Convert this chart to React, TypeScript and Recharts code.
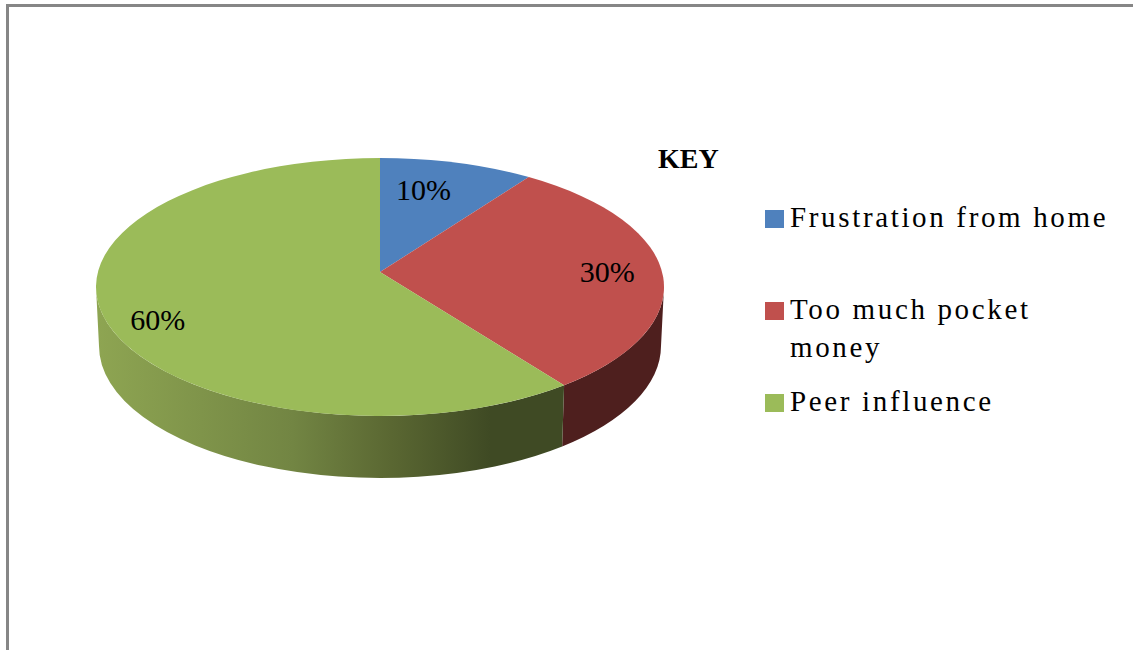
import { PieChart, Pie, Legend } from "recharts";

const categories = ["Frustration from home", "Too much pocket money", "Peer influence"];
const shares = [10, 30, 60];
const colours = ["#4f81bd", "#c0504d", "#9bbb59"];
const wallColours = ["#2c4a70", "#4e1f1e", "url(#greenWall)"];

const rows = categories.map((name, i) => ({ name, value: shares[i], fill: colours[i] }));

const W = 1133;
const H = 650;
const APEX_X = 380;
const APEX_Y = 272;
const RADIUS = 284;

// the flattened disc: top face and the bottom rim of the wall
const TOP = { dy: 15, rx: RADIUS, ry: 129 };
const BOTTOM = { dy: 74, rx: 281, ry: 132 };
const rad = (d: number) => (d * Math.PI) / 180;

// clockwise degrees from 12 o'clock, with the slight skew of the tilted view
const skew = (a: number) => a - 7.5 * Math.sin(rad(a));

function rim(cx: number, cy: number, e: { dy: number; rx: number; ry: number }, a: number) {
  return [cx + e.rx * Math.sin(rad(a)), cy + e.dy - e.ry * Math.cos(rad(a))];
}

function Slice(props: any) {
  const { cx, cy, startAngle, endAngle, fill, index } = props;
  const a = skew(90 - startAngle);
  const b = skew(90 - endAngle);
  const [sx, sy] = rim(cx, cy, TOP, a);
  const [ex, ey] = rim(cx, cy, TOP, b);
  const face = `M${cx},${cy} L${sx},${sy} A${TOP.rx},${TOP.ry} 0 ${b - a > 180 ? 1 : 0} 1 ${ex},${ey} Z`;

  // only the front half of the disc shows a wall
  const wa = Math.max(a, 90);
  const wb = Math.min(b, 270);
  let wall = null;
  if (wb > wa) {
    const [x1, y1] = rim(cx, cy, TOP, wa);
    const [x2, y2] = rim(cx, cy, TOP, wb);
    const [x3, y3] = rim(cx, cy, BOTTOM, wb);
    const [x4, y4] = rim(cx, cy, BOTTOM, wa);
    wall = (
      <path
        d={`M${x1},${y1} A${TOP.rx},${TOP.ry} 0 0 1 ${x2},${y2} L${x3},${y3} A${BOTTOM.rx},${BOTTOM.ry} 0 0 0 ${x4},${y4} Z`}
        fill={wallColours[index]}
      />
    );
  }
  return (
    <g>
      <defs>
        <linearGradient id="greenWall" gradientUnits="userSpaceOnUse" x1={cx - RADIUS} y1={0} x2={cx + 110} y2={0}>
          <stop offset="0%" stopColor="#8ea552" />
          <stop offset="50%" stopColor="#728543" />
          <stop offset="75%" stopColor="#5a6732" />
          <stop offset="100%" stopColor="#3f4a24" />
        </linearGradient>
      </defs>
      {wall}
      <path d={face} fill={fill} />
    </g>
  );
}

const labelNudge = [
  [-14, 3],
  [16, 4],
  [-13, 22],
];

function PctLabel(props: any) {
  const { cx, cy, midAngle, value, index } = props;
  const [x, y] = rim(cx, cy, TOP, skew(90 - midAngle));
  const px = cx + (x - cx) * 0.75 + labelNudge[index][0];
  const py = cy + (y - cy) * 0.75 + labelNudge[index][1];
  return (
    <text x={px} y={py} textAnchor="middle" dominantBaseline="middle" fontFamily="'Liberation Serif'" fontSize={30} fill="#000">
      {`${value}%`}
    </text>
  );
}

const legendGaps = [0, 54, 16];

function Key({ payload }: any) {
  return (
    <div style={{ fontFamily: "'Liberation Serif'", fontSize: 29, lineHeight: "38px", letterSpacing: 2.65, color: "#000" }}>
      {(payload || []).map((p: any, i: number) => (
        <div key={p.value} style={{ display: "flex", marginTop: legendGaps[i] }}>
          <span style={{ flex: "none", width: 19, height: 18, marginTop: 12, marginRight: 6, background: p.color }} />
          <span style={{ width: 330 }}>{p.value}</span>
        </div>
      ))}
    </div>
  );
}

export default function App() {
  return (
    <div style={{ position: "absolute", left: 0, top: 0, width: W, height: H, background: "#fff", overflow: "hidden" }}>
      <div style={{ position: "absolute", left: 6, top: 4, right: 0, bottom: 0, borderTop: "3px solid #868686", borderLeft: "3px solid #868686" }} />
      <PieChart width={W} height={H} margin={{ top: 0, right: 0, bottom: 0, left: 0 }} style={{ position: "absolute", left: 0, top: 0 }}>
        <Pie
          data={rows}
          dataKey="value"
          nameKey="name"
          cx={APEX_X}
          cy={APEX_Y}
          outerRadius={RADIUS}
          startAngle={90}
          endAngle={-270}
          shape={Slice}
          label={PctLabel}
          labelLine={false}
          isAnimationActive={false}
        />
        <text x={658} y={168} fontFamily="'Liberation Serif'" fontWeight="bold" fontSize={28} fill="#000">
          KEY
        </text>
        <Legend content={Key} itemSorter={null} wrapperStyle={{ position: "absolute", left: 765, top: 198, width: 360, bottom: "auto", right: "auto" }} />
      </PieChart>
    </div>
  );
}
